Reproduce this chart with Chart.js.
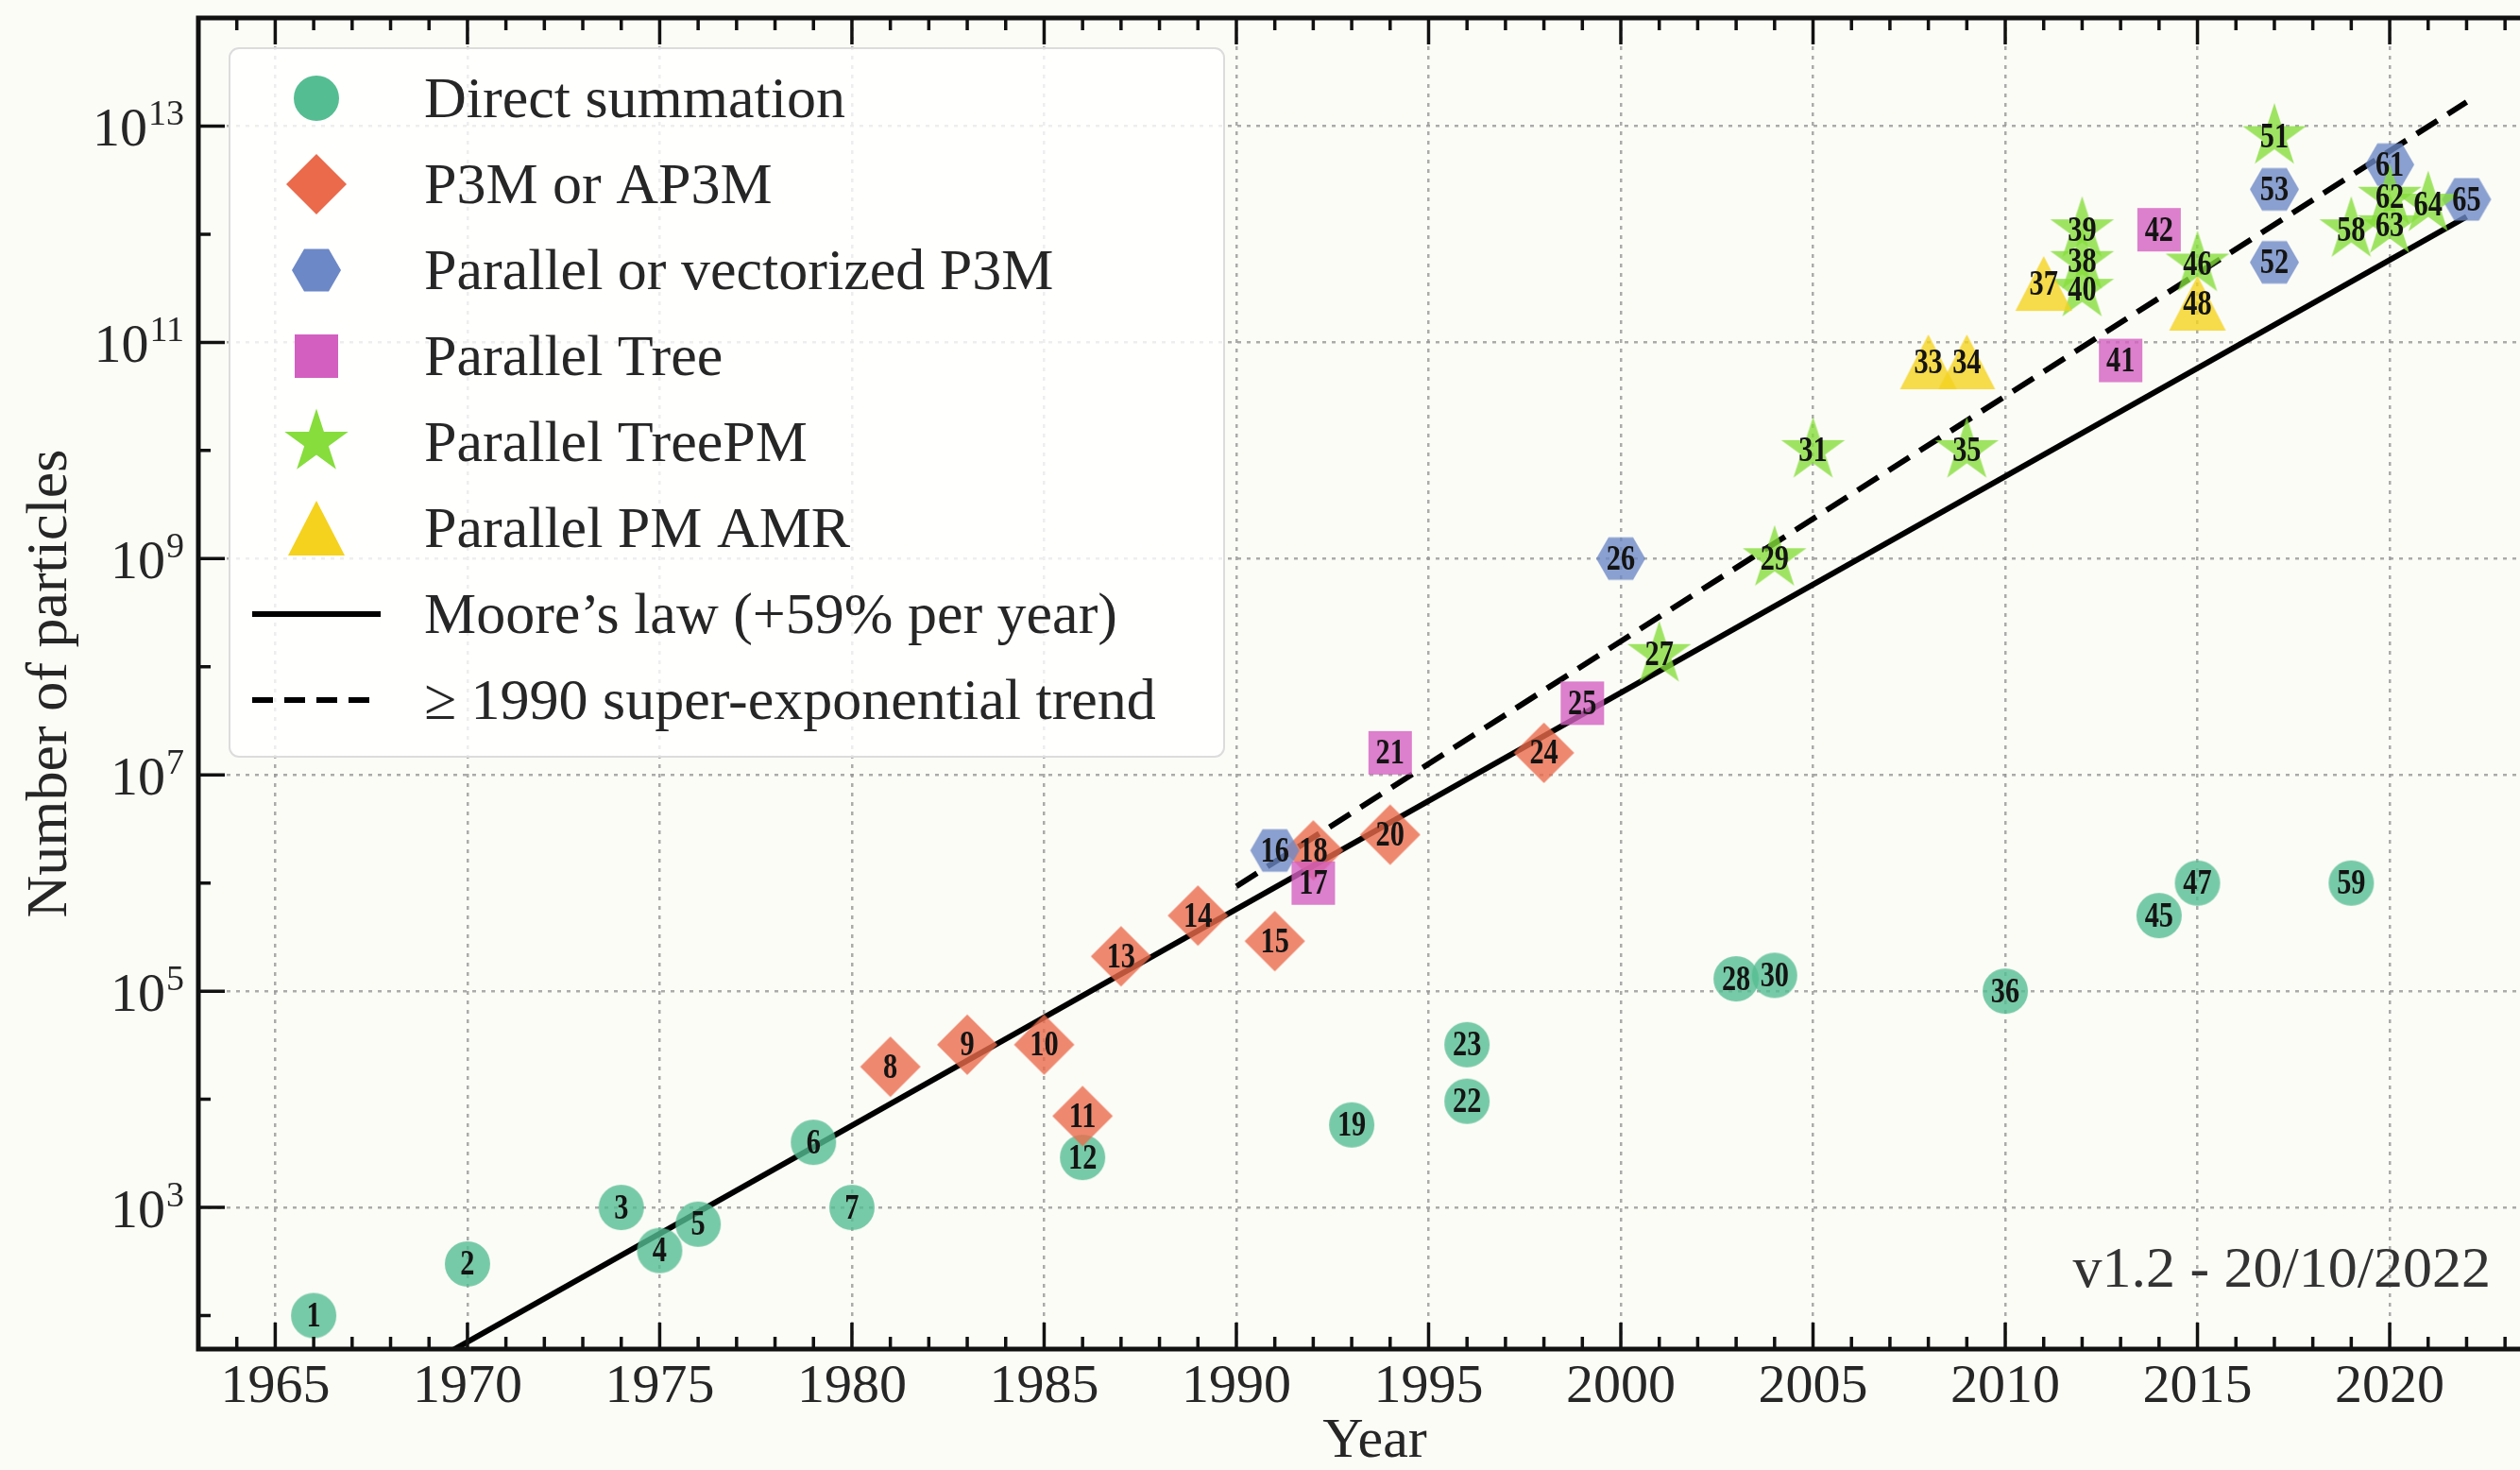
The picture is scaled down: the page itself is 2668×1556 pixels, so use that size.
<!DOCTYPE html>
<html>
<head>
<meta charset="utf-8">
<script src="https://cdn.jsdelivr.net/npm/chart.js@4.4.0/dist/chart.umd.min.js"></script>
<style>
  html, body { margin: 0; padding: 0; overflow: hidden; background: #fcfcf7; }
  canvas { position: absolute; left: 0; top: 0; }
</style>
</head>
<body>
<canvas id="nbodyChart" width="2720" height="1556"></canvas>
<script>
// simulation number, year and particle count for each method
const directIds = [1, 2, 3, 4, 5, 6, 7, 12, 19, 22, 23, 28, 30, 36, 45, 47, 59];
const directYears = [1966, 1970, 1974, 1975, 1976, 1979, 1980, 1986, 1993, 1996, 1996, 2003, 2004, 2010, 2014, 2015, 2019];
const directParticles = [1e2, 3e2, 1e3, 4e2, 7e2, 4e3, 1e3, 2.9e3, 5.8e3, 9.6e3, 3.2e4, 1.3e5, 1.4e5, 1e5, 5e5, 1e6, 1e6];

const p3mIds = [8, 9, 10, 11, 13, 14, 15, 18, 20, 24];
const p3mYears = [1981, 1983, 1985, 1986, 1987, 1989, 1991, 1992, 1994, 1998];
const p3mParticles = [2e4, 3.2e4, 3.2e4, 7e3, 2.1e5, 5e5, 2.9e5, 2e6, 2.8e6, 1.6e7];

const parallelP3mIds = [16, 26, 52, 53, 61, 65];
const parallelP3mYears = [1991, 2000, 2017, 2017, 2020, 2022];
const parallelP3mParticles = [2e6, 1e9, 5.5e11, 2.6e12, 4.4e12, 2.1e12];

const treeIds = [17, 21, 25, 41, 42];
const treeYears = [1992, 1994, 1999, 2013, 2014];
const treeParticles = [1e6, 1.6e7, 4.6e7, 6.8e10, 1.1e12];

const treePmIds = [27, 29, 31, 35, 38, 39, 40, 46, 51, 58, 62, 63, 64];
const treePmYears = [2001, 2004, 2005, 2009, 2012, 2012, 2012, 2015, 2017, 2019, 2020, 2020, 2021];
const treePmParticles = [1.3e8, 1e9, 1e10, 1e10, 5.6e11, 1.1e12, 3.1e11, 5.3e11, 8e12, 1.1e12, 2.2e12, 1.2e12, 1.9e12];

const amrIds = [33, 34, 37, 48];
const amrYears = [2008, 2009, 2011, 2015];
const amrParticles = [6.6e10, 6.6e10, 3.5e11, 2.3e11];

// trend lines (end points)
const mooreYears = [1969, 2022];
const mooreParticles = [36, 1.45e12];
const trendYears = [1990, 2022];
const trendParticles = [9.3e5, 1.67e13];

const yearTicks = [1965, 1970, 1975, 1980, 1985, 1990, 1995, 2000, 2005, 2010, 2015, 2020];
const decadeExponents = [2, 3, 4, 5, 6, 7, 8, 9, 10, 11, 12, 13, 14];
const labelledExponents = [3, 5, 7, 9, 11, 13];

const SERIF = '"Liberation Serif", "Times New Roman", serif';
const INK = '#262626';
const GRID = 'rgba(150,150,150,0.8)';

function pointsOf(years, values) {
    return years.map((y, i) => ({ x: y, y: values[i] }));
}

// marker sprites used as point styles
function makeMarker(shape, color, alpha) {
    const c = document.createElement('canvas');
    c.width = 76; c.height = 76;
    const g = c.getContext('2d');
    g.globalAlpha = alpha;
    g.fillStyle = color;
    g.translate(38, 38);
    g.beginPath();
    if (shape === 'circle') {
        g.arc(0, 0, 24, 0, Math.PI * 2);
    } else if (shape === 'diamond') {
        g.moveTo(0, -32); g.lineTo(32, 0); g.lineTo(0, 32); g.lineTo(-32, 0);
    } else if (shape === 'hexagon') {
        for (let i = 0; i < 6; i++) {
            const a = i * Math.PI / 3;
            g.lineTo(26 * Math.cos(a), 26 * Math.sin(a));
        }
    } else if (shape === 'square') {
        g.rect(-23, -23, 46, 46);
    } else if (shape === 'star') {
        for (let i = 0; i < 10; i++) {
            const r = i % 2 ? 13.5 : 35.5;
            const a = -Math.PI / 2 + i * Math.PI / 5;
            g.lineTo(r * Math.cos(a), r * Math.sin(a));
        }
    } else if (shape === 'triangle') {
        g.moveTo(0, -29); g.lineTo(30, 29); g.lineTo(-30, 29);
    }
    g.closePath();
    g.fill();
    return c;
}

const methods = [
    { label: 'Direct summation', shape: 'circle', color: '#55bd92', ids: directIds, years: directYears, values: directParticles },
    { label: 'P3M or AP3M', shape: 'diamond', color: '#ea6a4b', ids: p3mIds, years: p3mYears, values: p3mParticles },
    { label: 'Parallel or vectorized P3M', shape: 'hexagon', color: '#6d88c6', ids: parallelP3mIds, years: parallelP3mYears, values: parallelP3mParticles },
    { label: 'Parallel Tree', shape: 'square', color: '#d35fc0', ids: treeIds, years: treeYears, values: treeParticles },
    { label: 'Parallel TreePM', shape: 'star', color: '#86dd3c', ids: treePmIds, years: treePmYears, values: treePmParticles },
    { label: 'Parallel PM AMR', shape: 'triangle', color: '#f4d21e', ids: amrIds, years: amrYears, values: amrParticles }
];

const datasets = methods.map((m, i) => ({
    label: m.label,
    data: pointsOf(m.years, m.values),
    ids: m.ids,
    pointStyle: makeMarker(m.shape, m.color, 0.8),
    pointRadius: 10,
    order: 6 - i
}));

datasets.push({
    type: 'line',
    label: 'Moore\u2019s law (+59% per year)',
    data: pointsOf(mooreYears, mooreParticles),
    borderColor: '#000',
    borderWidth: 6,
    pointRadius: 0,
    tension: 0,
    order: 20
});
datasets.push({
    type: 'line',
    label: '\u2265 1990 super-exponential trend',
    data: pointsOf(trendYears, trendParticles),
    borderColor: '#000',
    borderWidth: 6,
    borderDash: [26, 13],
    pointRadius: 0,
    tension: 0,
    order: 21
});

// simulation numbers written on each marker
const idLabels = {
    id: 'idLabels',
    afterDatasetsDraw(chart) {
        const ctx = chart.ctx;
        ctx.save();
        ctx.font = 'bold 37px ' + SERIF;
        ctx.fillStyle = '#141414';
        ctx.textAlign = 'center';
        ctx.textBaseline = 'middle';
        chart.data.datasets.forEach((ds, i) => {
            if (!ds.ids) return;
            chart.getDatasetMeta(i).data.forEach((pt, j) => {
                ctx.save();
                ctx.translate(pt.x, pt.y + 2);
                ctx.scale(0.82, 1);
                ctx.fillText(String(ds.ids[j]), 0, 0);
                ctx.restore();
            });
        });
        ctx.restore();
    }
};

// frame, inward ticks, y labels, legend box and version stamp
const decorations = {
    id: 'decorations',
    beforeDraw(chart) {
        const ctx = chart.ctx;
        ctx.save();
        ctx.fillStyle = '#fcfcf7';
        ctx.fillRect(0, 0, chart.width, chart.height);
        ctx.restore();
    },
    afterDraw(chart) {
        const ctx = chart.ctx;
        const { left, right, top, bottom } = chart.chartArea;
        const xs = chart.scales.x, ys = chart.scales.y;
        ctx.save();

        // ticks
        ctx.strokeStyle = '#111';
        ctx.lineWidth = 3.5;
        ctx.beginPath();
        for (let yr = 1964; yr <= 2024; yr++) {
            const px = xs.getPixelForValue(yr);
            const len = yr % 5 === 0 ? 28 : 13;
            ctx.moveTo(px, bottom); ctx.lineTo(px, bottom - len);
            ctx.moveTo(px, top); ctx.lineTo(px, top + len);
        }
        decadeExponents.forEach(e => {
            const py = ys.getPixelForValue(Math.pow(10, e));
            const len = e % 2 ? 28 : 13;
            ctx.moveTo(left, py); ctx.lineTo(left + len, py);
        });
        ctx.stroke();

        // frame
        ctx.lineWidth = 5;
        ctx.strokeStyle = '#111';
        ctx.strokeRect(left, top, right - left + 40, bottom - top);

        // y tick labels as powers of ten
        ctx.fillStyle = INK;
        ctx.textAlign = 'left';
        ctx.textBaseline = 'alphabetic';
        labelledExponents.forEach(e => {
            const py = ys.getPixelForValue(Math.pow(10, e));
            ctx.font = '38px ' + SERIF;
            const expW = ctx.measureText(String(e)).width;
            ctx.font = '58px ' + SERIF;
            const baseW = ctx.measureText('10').width;
            const x0 = 195 - expW - baseW - 1;
            ctx.fillText('10', x0, py + 21);
            ctx.font = '38px ' + SERIF;
            ctx.fillText(String(e), x0 + baseW + 1, py - 1);
        });

        // legend
        const bx = 243, by = 51, bw = 1053, bh = 750;
        ctx.beginPath();
        ctx.roundRect(bx, by, bw, bh, 10);
        ctx.fillStyle = 'rgba(255,255,255,0.8)';
        ctx.fill();
        ctx.lineWidth = 2;
        ctx.strokeStyle = '#dcdcdc';
        ctx.stroke();

        const rowY = i => 104 + i * 91;
        ctx.font = '62px ' + SERIF;
        methods.forEach((m, i) => {
            const sprite = makeMarker(m.shape, m.color, 1);
            ctx.drawImage(sprite, 335 - 38, rowY(i) - 38);
            ctx.fillStyle = INK;
            ctx.fillText(m.label, 449, rowY(i) + 20);
        });
        ctx.strokeStyle = '#000';
        ctx.lineWidth = 6;
        ctx.beginPath();
        ctx.moveTo(267, rowY(6)); ctx.lineTo(403, rowY(6));
        ctx.stroke();
        ctx.setLineDash([22, 12]);
        ctx.beginPath();
        ctx.moveTo(267, rowY(7)); ctx.lineTo(403, rowY(7));
        ctx.stroke();
        ctx.setLineDash([]);
        ctx.fillStyle = INK;
        ctx.fillText(datasets[6].label, 449, rowY(6) + 20);
        ctx.fillText(datasets[7].label, 449, rowY(7) + 20);

        // version stamp
        ctx.textAlign = 'right';
        ctx.fillStyle = '#333';
        ctx.fillText('v1.2 - 20/10/2022', 2637, 1362);
        ctx.restore();
    }
};

const ctx = document.getElementById('nbodyChart').getContext('2d');
new Chart(ctx, {
    type: 'scatter',
    data: { datasets: datasets },
    options: {
        responsive: false,
        animation: false,
        layout: { padding: { top: 19, right: 19, bottom: 0, left: 0 } },
        plugins: {
            legend: { display: false },
            tooltip: { enabled: false }
        },
        scales: {
            x: {
                type: 'linear',
                min: 1963,
                max: 2024.2,
                afterBuildTicks: s => { s.ticks = yearTicks.map(v => ({ value: v })); },
                afterFit: s => { s.height = 128; },
                grid: { color: GRID, lineWidth: 2.5, drawTicks: false },
                border: { display: false, dash: [4, 6] },
                ticks: {
                    font: { family: SERIF, size: 58 },
                    color: INK,
                    padding: 6,
                    maxRotation: 0,
                    autoSkip: false,
                    callback: v => String(v)
                },
                title: {
                    display: true,
                    text: 'Year',
                    color: INK,
                    font: { family: SERIF, size: 60, lineHeight: 1 },
                    padding: { top: 0, bottom: 0 }
                }
            },
            y: {
                type: 'logarithmic',
                min: 49,
                max: 1e14,
                afterBuildTicks: s => { s.ticks = decadeExponents.map(e => ({ value: Math.pow(10, e) })); },
                afterFit: s => { s.width = 210; },
                grid: {
                    color: c => (c.tick && Math.round(Math.log10(c.tick.value)) % 2 === 0) ? 'rgba(0,0,0,0)' : GRID,
                    lineWidth: 2.5,
                    drawTicks: false
                },
                border: { display: false, dash: [4, 6] },
                ticks: { display: false },
                title: {
                    display: true,
                    text: 'Number of particles',
                    color: INK,
                    font: { family: SERIF, size: 62, lineHeight: 1 },
                    padding: { top: 23, bottom: 0 }
                }
            }
        }
    },
    plugins: [idLabels, decorations]
});
</script>
</body>
</html>
